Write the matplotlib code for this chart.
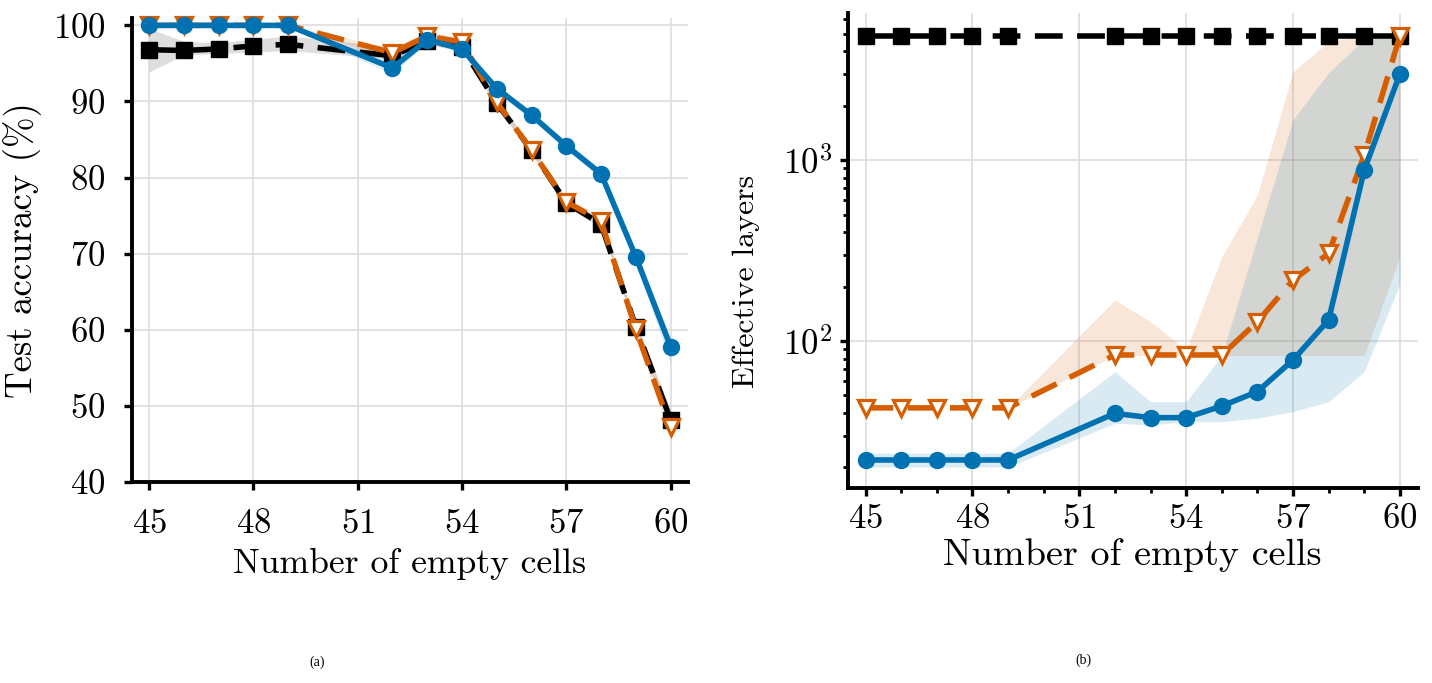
import math
import matplotlib
matplotlib.use("Agg")
import matplotlib.pyplot as plt
from matplotlib.ticker import FixedLocator, MultipleLocator, NullFormatter, LogLocator, FuncFormatter

plt.rcParams['font.family'] = ['cmr10', 'DejaVu Serif']
plt.rcParams['mathtext.fontset'] = 'cm'
plt.rcParams['axes.formatter.use_mathtext'] = True

# ---------------- data ----------------
empty_cells = [45, 46, 47, 48, 49, 52, 53, 54, 55, 56, 57, 58, 59, 60]

# (a) test accuracy (%)
acc_black = [96.8, 96.7, 96.9, 97.3, 97.5, 96.0, 98.0, 97.1, 89.8, 83.6, 76.7, 73.9, 60.4, 48.2]
acc_black_lo = [93.9, 96.1, 96.3, 96.5, 96.7, 95.6, 97.5, 96.6, 89.3, 83.1, 76.2, 73.4, 59.8, 47.0]
acc_black_hi = [99.6, 97.9, 97.7, 98.2, 98.6, 97.2, 98.6, 97.6, 90.3, 84.1, 77.2, 74.4, 61.0, 49.5]

acc_orange = [100, 100, 100, 100, 100, 96.4, 98.6, 97.8, 89.9, 83.6, 76.8, 74.3, 60.1, 47.2]
acc_orange_lo = [99.8, 99.8, 99.8, 99.8, 99.8, 95.8, 98.2, 97.4, 89.4, 83.1, 76.3, 73.8, 59.4, 45.5]
acc_orange_hi = [100, 100, 100, 100, 100, 97.0, 99.2, 98.3, 90.4, 84.1, 77.3, 74.8, 60.8, 48.8]

acc_blue = [100, 100, 100, 100, 100, 94.4, 98.1, 96.9, 91.7, 88.2, 84.2, 80.5, 69.6, 57.8]
acc_blue_lo = [99.8, 99.8, 99.8, 99.8, 99.8, 93.6, 97.7, 96.5, 91.2, 87.7, 83.6, 79.9, 68.8, 55.6]
acc_blue_hi = [100, 100, 100, 100, 100, 95.2, 98.6, 97.4, 92.2, 88.7, 84.6, 80.9, 70.4, 59.0]

# (b) effective layers
lay_black = [4850] * 14

lay_orange = [42.7, 42.7, 42.7, 42.7, 42.7, 83.7, 83.7, 83.7, 83.7, 127.8, 217, 305, 1066, 4850]
lay_orange_lo = [42.7, 42.7, 42.7, 42.7, 42.7, 83.0, 83.0, 83.0, 83.0, 83.0, 83.0, 83.0, 83.0, 292]
lay_orange_hi = [42.7, 42.7, 42.7, 42.7, 42.7, 168.5, 128, 89, 292, 641, 3075, 4530, 4850, 4850]

lay_blue = [22.0, 22.0, 22.0, 22.0, 22.0, 39.8, 37.7, 37.7, 43.7, 52.5, 78.5, 130.6, 880, 2985]
lay_blue_lo = [20.1, 20.1, 20.1, 20.1, 20.1, 35.1, 34.4, 35.8, 35.8, 37.5, 40.7, 46.2, 67.7, 207]
lay_blue_hi = [24.0, 24.0, 24.0, 24.0, 24.0, 67.7, 46.2, 46.2, 83.0, 373, 1670, 3040, 4650, 4850]

acc_yticks = [40, 50, 60, 70, 80, 90, 100]
x_ticks = [45, 48, 51, 54, 57, 60]

BLUE = '#0072B2'
ORANGE = '#D55E00'
BLACK = '#000000'

fig = plt.figure(figsize=(14.32, 6.83), dpi=100)
ax1 = fig.add_axes([0.092, 0.2943, 0.3884, 0.6797])
ax2 = fig.add_axes([0.592, 0.2855, 0.398, 0.6955])

LW = 4.0
DASH = (0, (5, 2.6))
for ax in (ax1, ax2):
    for s in ('top', 'right'):
        ax.spines[s].set_visible(False)
    for s in ('left', 'bottom'):
        ax.spines[s].set_linewidth(2.8)
    ax.tick_params(which='major', length=6, width=2.4, labelsize=25, direction='out')
    ax.tick_params(which='minor', length=3.5, width=2.0)
    ax.grid(True, which='major', color='#dddddd', lw=1.2)
    ax.set_axisbelow(True)
    ax.set_xlim(44.5, 60.5)
    ax.xaxis.set_major_locator(FixedLocator(x_ticks))

# ---- (a)
ax1.tick_params(which='major', pad=13)
ax1.fill_between(empty_cells, acc_black_lo, acc_black_hi, color=BLACK, alpha=0.13, lw=0)
ax1.fill_between(empty_cells, acc_orange_lo, acc_orange_hi, color=ORANGE, alpha=0.13, lw=0)
ax1.fill_between(empty_cells, acc_blue_lo, acc_blue_hi, color=BLUE, alpha=0.13, lw=0)
ax1.plot(empty_cells, acc_black, color=BLACK, ls=DASH, lw=LW, marker='s', ms=11, clip_on=False, zorder=3)
ax1.plot(empty_cells, acc_orange, color=ORANGE, ls=DASH, lw=LW, marker='v', ms=12, mfc='white', mec=ORANGE, mew=2.3, clip_on=False, zorder=4)
ax1.plot(empty_cells, acc_blue, color=BLUE, ls='-', lw=LW, marker='o', ms=11.5, clip_on=False, zorder=5)
ax1.set_ylim(40, 101)
ax1.yaxis.set_major_locator(FixedLocator(acc_yticks))
ax1.set_xlabel('Number of empty cells', fontsize=25.7, labelpad=6)
ax1.set_ylabel('Test accuracy (%)', fontsize=26.5, labelpad=8)

# ---- (b)
ax2.tick_params(which='major', pad=5)
ax2.set_yscale('log')
ax2.fill_between(empty_cells, lay_orange_lo, lay_orange_hi, color=ORANGE, alpha=0.15, lw=0)
ax2.fill_between(empty_cells, lay_blue_lo, lay_blue_hi, color=BLUE, alpha=0.15, lw=0)
ax2.plot(empty_cells, lay_black, color=BLACK, ls=DASH, lw=LW, marker='s', ms=11, clip_on=False, zorder=3)
ax2.plot(empty_cells, lay_orange, color=ORANGE, ls=DASH, lw=LW, marker='v', ms=12, mfc='white', mec=ORANGE, mew=2.3, clip_on=False, zorder=4)
ax2.plot(empty_cells, lay_blue, color=BLUE, ls='-', lw=LW, marker='o', ms=11.5, clip_on=False, zorder=5)
ax2.set_ylim(15.4, 6500)
ax2.yaxis.set_major_locator(LogLocator(base=10, numticks=10))
ax2.yaxis.set_minor_locator(LogLocator(base=10, subs=range(2, 10), numticks=20))
ax2.yaxis.set_major_formatter(FuncFormatter(lambda v, p: r'$10^{%d}$' % round(math.log10(v))))
ax2.yaxis.set_minor_formatter(NullFormatter())
ax2.xaxis.set_minor_locator(MultipleLocator(1))
ax2.set_xlabel('Number of empty cells', fontsize=27.5, labelpad=2)
ax2.set_ylabel('Effective layers', fontsize=23)
ax2.yaxis.set_label_coords(-0.154, 0.434)

fig.text(0.2214, 0.031, '(a)', fontsize=10, family='Liberation Serif', ha='center', va='center')
fig.text(0.7563, 0.034, '(b)', fontsize=10, family='Liberation Serif', ha='center', va='center')

fig.savefig('out.png', dpi=100)
